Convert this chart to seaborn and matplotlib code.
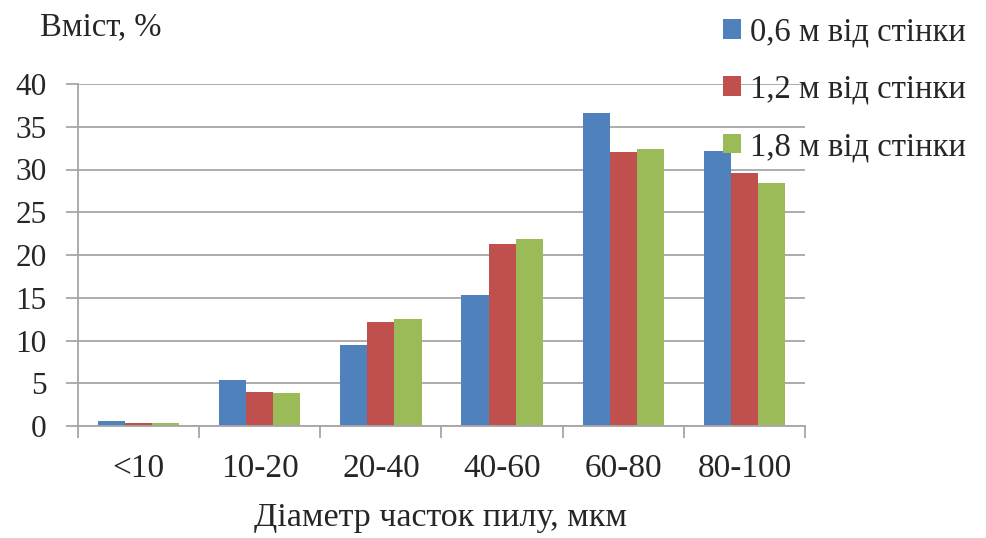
import matplotlib
matplotlib.use("Agg")
import matplotlib.pyplot as plt
import seaborn as sns
import pandas as pd
from matplotlib.patches import Patch
from matplotlib.ticker import FixedLocator

# Particle size classes, µm
categories = ["<10", "10-20", "20-40", "40-60", "60-80", "80-100"]
# Content of each class, %, at three distances from the wall
series_names = ["0,6 м від стінки", "1,2 м від стінки", "1,8 м від стінки"]
values_06 = [0.6, 5.4, 9.5, 15.3, 36.6, 32.2]
values_12 = [0.4, 4.0, 12.2, 21.3, 32.1, 29.6]
values_18 = [0.4, 3.9, 12.5, 21.9, 32.4, 28.4]
colors = ["#4F81BD", "#C0504D", "#9BBB59"]

rows = []
for name, vals in zip(series_names, [values_06, values_12, values_18]):
    for cat, v in zip(categories, vals):
        rows.append({"cat": cat, "series": name, "value": v})
df = pd.DataFrame(rows)

sns.set_theme(style="white")
plt.rcParams["font.family"] = ["Liberation Serif", "DejaVu Serif"]

W, H = 986, 538
fig = plt.figure(figsize=(W / 100, H / 100), dpi=100)
left, right, top, bottom = 78, 805, 84, 426
ax = fig.add_axes([left / W, 1 - bottom / H, (right - left) / W, (bottom - top) / H])

sns.barplot(data=df, x="cat", y="value", hue="series", order=categories,
            hue_order=series_names, palette=colors, width=0.67,
            saturation=1, ax=ax, legend=False, edgecolor="none")

ax.set_xlim(-0.5, len(categories) - 0.5)
ax.set_ylim(0, 40)
ax.set_yticks(range(0, 41, 5))
ax.yaxis.grid(True, color="#A6A6A6", linewidth=1.3)
ax.set_axisbelow(True)

for side in ["top", "right"]:
    ax.spines[side].set_visible(False)
for side in ["left", "bottom"]:
    ax.spines[side].set_color("#A6A6A6")
    ax.spines[side].set_linewidth(1.3)

ax.set_xlabel("")
ax.set_ylabel("")
ax.tick_params(axis="y", which="major", length=8.6, width=1.3, color="#A6A6A6",
               labelsize=22.5, pad=14, left=True)
ax.tick_params(axis="x", which="major", length=0, labelsize=24, pad=20)
ax.xaxis.set_minor_locator(FixedLocator([i - 0.5 for i in range(len(categories) + 1)]))
ax.tick_params(axis="x", which="minor", length=8.6, width=1.3, color="#A6A6A6",
               bottom=True)

fig.text(40 / W, 1 - 27 / H, "Вміст, %", fontsize=23.5, va="center", ha="left")
fig.text(441 / W, 1 - 518 / H, "Діаметр часток пилу, мкм", fontsize=24.5,
         va="center", ha="center")

handles = [Patch(facecolor=c, edgecolor="none") for c in colors]
fig.legend(handles, series_names, loc="upper left",
           bbox_to_anchor=(723 / W, 1 - 17 / H), frameon=False,
           fontsize=23.5, handlelength=0.55, handleheight=0.55,
           handletextpad=0.28, labelspacing=0.82, borderaxespad=0,
           borderpad=0)

fig.savefig("out.png", dpi=100)
